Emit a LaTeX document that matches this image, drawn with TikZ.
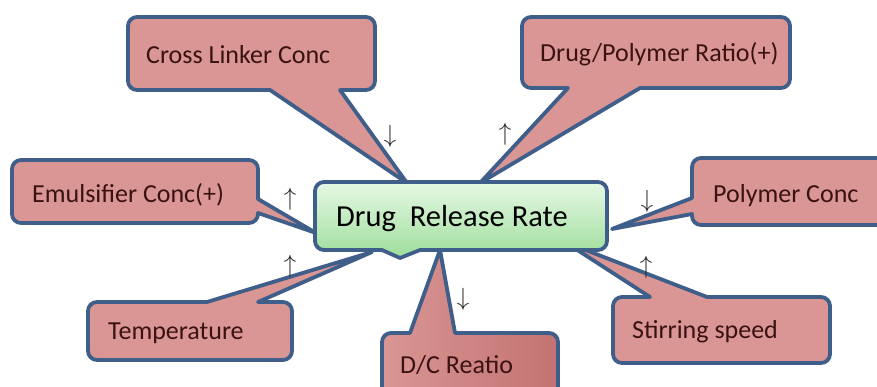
\documentclass[tikz,border=0pt]{standalone}
\usepackage{fontspec}
\setmainfont{Carlito}
\definecolor{rose}{HTML}{D99694}
\definecolor{rosedark}{HTML}{C27372}
\definecolor{edge}{HTML}{3F5E8A}
\definecolor{txt}{HTML}{3A1212}
\definecolor{gtop}{HTML}{E6F8E4}
\definecolor{gbot}{HTML}{9EDE9C}
\tikzset{
  callout/.style={fill=rose, draw=edge, line width=3.8pt, line join=round, rounded corners=9pt},
  lab/.style={anchor=base west, text=txt, font=\fontsize{26}{30}\selectfont, inner sep=0pt},
  sign/.style={font=\fontsize{23}{25}\selectfont, text=black!85, inner sep=0pt},
}
\begin{document}
\begin{tikzpicture}[x=1pt,y=-1pt]
\useasboundingbox (0,0) rectangle (877,387);
\fill[white] (0,0) rectangle (877,387);
\clip (0,0) rectangle (877,387);
% tips
\coordinate (tCross) at (407,183);
\coordinate (tRatio) at (480,183);
\coordinate (tEmul) at (316,233);
\coordinate (tTemp) at (372,252);
\coordinate (tDC) at (440,250);
\coordinate (tPoly) at (612,229);
\coordinate (tStir) at (565,242);
% callouts
\path[callout] (250,17) -- (375,17) -- (375,90) [sharp corners] -- (340,90) -- (tCross) -- (270,90) [rounded corners=9pt] -- (128,90) -- (128,17) -- cycle;
\path[callout] (650,17) -- (790,17) -- (790,88) [sharp corners] -- (640,88) -- (tRatio) -- (568,88) [rounded corners=9pt] -- (522,88) -- (522,17) -- cycle;
\path[callout] (130,160) -- (258,160) [sharp corners] -- (258,199) -- (tEmul) -- (258,213) [rounded corners=9pt] -- (258,223) -- (12,223) -- (12,160) -- cycle;
\path[callout] (88,330) -- (88,302) [sharp corners] -- (207,302) -- (tTemp) -- (258,302) [rounded corners=9pt] -- (292,302) -- (292,360) -- (88,360) -- cycle;
\path[callout, left color=rose, right color=rosedark] (382,370) -- (382,333) [sharp corners] -- (410,333) -- (tDC) -- (455,333) [rounded corners=9pt] -- (558,333) -- (558,400) -- (382,400) -- cycle;
\path[callout] (800,158) -- (895,158) -- (895,225) -- (692,225) [sharp corners] -- (692,214) -- (tPoly) -- (692,198) [rounded corners=9pt] -- (692,158) -- cycle;
\path[callout] (613,330) -- (613,297) [sharp corners] -- (650,297) -- (tStir) -- (707,297) [rounded corners=9pt] -- (830,297) -- (830,363) -- (613,363) -- cycle;
% central box
\path[top color=gtop, bottom color=gbot, draw=edge, line width=3.8pt, line join=round, rounded corners=9pt]
  (460,182) -- (607,182) -- (607,250) [sharp corners] -- (420,250) -- (400,258) -- (382,250) [rounded corners=9pt] -- (315,250) -- (315,182) -- cycle;
\node[anchor=base west, inner sep=0pt, text=black, font=\fontsize{30.5}{32}\selectfont] (drr) at (336,226) {Drug\ \ Release Rate};
% labels
\node[lab] (cross) at (146,64) {Cross Linker Conc};
\node[lab] (ratio) at (540,62) {Drug/Polymer Ratio(+)};
\node[lab] (emul) at (32,203) {Emulsifier Conc(+)};
\node[lab] (temp) at (108,339) {Temperature};
\node[lab] (dc) at (400,373) {D/C Reatio};
\node[lab] (poly) at (713,203) {Polymer Conc};
\node[lab] (stir) at (632,338) {Stirring speed};
% signs
\node[sign] (sCross) at (390,136) {$\downarrow$};
\node[sign] (sRatio) at (505,134) {$\uparrow$};
\node[sign] (sEmul) at (290,199) {$\uparrow$};
\node[sign] (sTemp) at (290,266) {$\uparrow$};
\node[sign] (sDC) at (463,299) {$\downarrow$};
\node[sign] (sPoly) at (647,201) {$\downarrow$};
\node[sign] (sStir) at (646,267) {$\uparrow$};
\end{tikzpicture}
\end{document}
